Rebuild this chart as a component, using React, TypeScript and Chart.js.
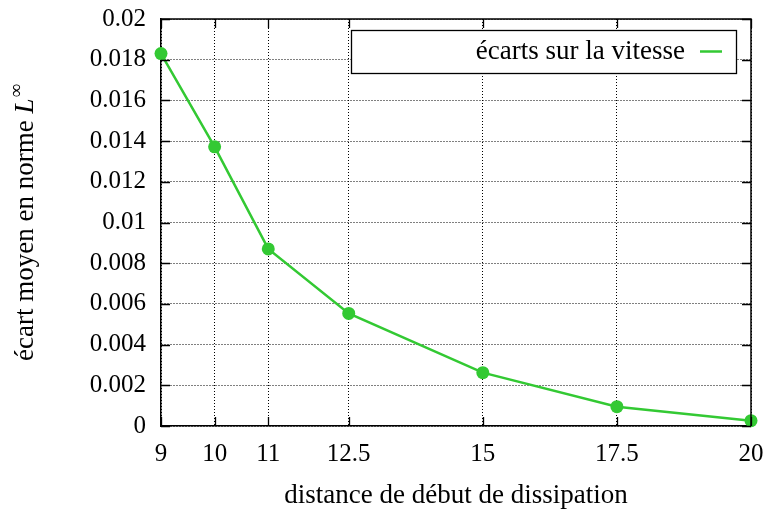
import React, { useEffect, useRef } from "react";
import { Chart, registerables } from "chart.js";

Chart.register(...registerables);

const distances = [9, 10, 11, 12.5, 15, 17.5, 20];
const ecarts = [0.0183, 0.01372, 0.0087, 0.00553, 0.00262, 0.00095, 0.00026];
const xTicks = [9, 10, 11, 12.5, 15, 17.5, 20];
const xTickLabels = ["9", "10", "11", "12.5", "15", "17.5", "20"];
const yTicks = [0, 0.002, 0.004, 0.006, 0.008, 0.01, 0.012, 0.014, 0.016, 0.018, 0.02];
const yTickLabels = ["0", "0.002", "0.004", "0.006", "0.008", "0.01", "0.012", "0.014", "0.016", "0.018", "0.02"];
const seriesLabel = "écarts sur la vitesse";
const xTitle = "distance de début de dissipation";
const yTitleMain = "écart moyen en norme ";
const yTitleVar = "L";
const yTitleSup = "∞";

const GREEN = "#33c933";
const FONT = "'Liberation Serif', 'Times New Roman', serif";

const decorPlugin = {
  id: "decor",
  afterDraw(chart: any) {
    const { ctx, chartArea: a, scales } = chart;
    const x = scales.x;
    const y = scales.y;
    ctx.save();
    // frame (top and right)
    ctx.strokeStyle = "#000";
    ctx.lineWidth = 1.5;
    ctx.beginPath();
    ctx.moveTo(a.left, a.top);
    ctx.lineTo(a.right, a.top);
    ctx.lineTo(a.right, a.bottom);
    ctx.stroke();
    // inward tick marks on all four sides
    ctx.lineWidth = 1.3;
    const L = 9;
    ctx.beginPath();
    for (const v of xTicks) {
      const px = Math.round(x.getPixelForValue(v)) + 0.5;
      ctx.moveTo(px, a.bottom);
      ctx.lineTo(px, a.bottom - L);
      ctx.moveTo(px, a.top);
      ctx.lineTo(px, a.top + L);
    }
    for (const v of yTicks) {
      const py = Math.round(y.getPixelForValue(v)) + 0.5;
      ctx.moveTo(a.left, py);
      ctx.lineTo(a.left + L, py);
      ctx.moveTo(a.right, py);
      ctx.lineTo(a.right - L, py);
    }
    ctx.stroke();

    // legend box
    const bx = a.left + 190;
    const by = a.top + 11;
    const bw = a.right - 15 - bx;
    const bh = 43;
    ctx.fillStyle = "#fff";
    ctx.fillRect(bx, by, bw, bh);
    ctx.lineWidth = 1.3;
    ctx.strokeStyle = "#000";
    ctx.strokeRect(bx + 0.5, by + 0.5, bw, bh);
    const ly = by + bh / 2;
    ctx.fillStyle = "#000";
    ctx.font = `27px ${FONT}`;
    ctx.textAlign = "right";
    ctx.textBaseline = "middle";
    ctx.fillText(seriesLabel, bx + bw - 51, ly);
    ctx.strokeStyle = GREEN;
    ctx.lineWidth = 2.5;
    ctx.beginPath();
    ctx.moveTo(bx + bw - 36, ly);
    ctx.lineTo(bx + bw - 14, ly);
    ctx.stroke();

    // x title
    ctx.fillStyle = "#000";
    ctx.font = `27px ${FONT}`;
    ctx.textAlign = "center";
    ctx.textBaseline = "alphabetic";
    ctx.fillText(xTitle, (a.left + a.right) / 2, 503);

    // y title, rotated
    ctx.save();
    ctx.translate(33, (a.top + a.bottom) / 2);
    ctx.rotate(-Math.PI / 2);
    ctx.textAlign = "left";
    ctx.textBaseline = "alphabetic";
    const fMain = `27px ${FONT}`;
    const fVar = `italic 27px ${FONT}`;
    const fSup = `19px ${FONT}`;
    ctx.font = fMain;
    const w1 = ctx.measureText(yTitleMain).width;
    ctx.font = fVar;
    const w2 = ctx.measureText(yTitleVar).width;
    ctx.font = fSup;
    const w3 = ctx.measureText(yTitleSup).width;
    let cx = -(w1 + w2 + 1 + w3) / 2;
    ctx.font = fMain;
    ctx.fillText(yTitleMain, cx, 0);
    cx += w1;
    ctx.font = fVar;
    ctx.fillText(yTitleVar, cx, 0);
    cx += w2 + 1;
    ctx.font = fSup;
    ctx.fillText(yTitleSup, cx, -11);
    ctx.restore();

    ctx.restore();
  },
};

const clearPadding = (scale: any) => {
  scale.paddingTop = 0;
  scale.paddingBottom = 0;
  scale.paddingLeft = 0;
  scale.paddingRight = 0;
};

export default function App() {
  const ref = useRef<HTMLCanvasElement | null>(null);

  useEffect(() => {
    document.body.style.margin = "0";
    const canvas = ref.current;
    if (!canvas) return;
    const chart = new Chart(canvas, {
      type: "line",
      data: {
        datasets: [
          {
            label: seriesLabel,
            data: distances.map((d, i) => ({ x: d, y: ecarts[i] })),
            borderColor: GREEN,
            backgroundColor: GREEN,
            borderWidth: 2.5,
            pointRadius: 6.5,
            pointHoverRadius: 6.5,
            pointBorderWidth: 0,
            tension: 0,
            clip: false as any,
          },
        ],
      },
      options: {
        animation: false,
        responsive: true,
        maintainAspectRatio: false,
        layout: { padding: { top: 19, right: 17, left: 0, bottom: 0 } },
        plugins: {
          legend: { display: false },
          tooltip: { enabled: false },
        },
        scales: {
          x: {
            type: "linear",
            min: 9,
            max: 20,
            afterBuildTicks: (scale: any) => {
              scale.ticks = xTicks.map((v) => ({ value: v }));
            },
            afterFit: (scale: any) => {
              scale.height = 87;
              clearPadding(scale);
            },
            ticks: {
              autoSkip: false,
              maxRotation: 0,
              padding: 13,
              color: "#000",
              font: { family: FONT, size: 25 },
              callback: (v: any) => {
                const i = xTicks.indexOf(Number(v));
                return i >= 0 ? xTickLabels[i] : "";
              },
            },
            grid: {
              color: "#000",
              lineWidth: 1,
              drawTicks: false,
            },
            border: { display: true, color: "#000", width: 1.5, dash: [1, 2] },
          },
          y: {
            type: "linear",
            min: 0,
            max: 0.02,
            afterBuildTicks: (scale: any) => {
              scale.ticks = yTicks.map((v) => ({ value: v }));
            },
            afterFit: (scale: any) => {
              scale.width = 161;
              clearPadding(scale);
            },
            ticks: {
              autoSkip: false,
              padding: 15,
              color: "#000",
              font: { family: FONT, size: 25 },
              callback: (v: any) => {
                const i = yTicks.findIndex((t) => Math.abs(t - Number(v)) < 1e-9);
                return i >= 0 ? yTickLabels[i] : "";
              },
            },
            grid: {
              color: "#000",
              lineWidth: 1,
              drawTicks: false,
            },
            border: { display: true, color: "#000", width: 1.5, dash: [1, 2] },
          },
        },
      },
      plugins: [decorPlugin],
    });
    return () => chart.destroy();
  }, []);

  return (
    <div style={{ position: "absolute", left: 0, top: 0, width: 768, height: 513 }}>
      <canvas ref={ref} />
    </div>
  );
}
